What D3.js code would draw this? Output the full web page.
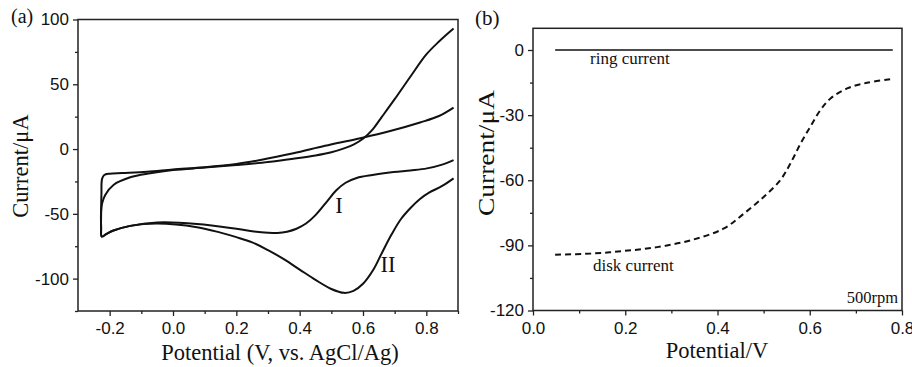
<!DOCTYPE html>
<meta charset="utf-8">
<style>
body { margin: 0; background: #fff; }
svg { font-family: "Liberation Serif", "Times New Roman", serif; }
.axis .domain { display: none; }
.axis .tick line { stroke: #222; stroke-width: 1.3px; }
.axis text { font-size: 17px; fill: #111; }
.frame { fill: none; stroke: #222; stroke-width: 1.5px; }
.cv { fill: none; stroke: #111; stroke-width: 2px; }
.ring { fill: none; stroke: #111; stroke-width: 1.6px; }
.disk { fill: none; stroke: #111; stroke-width: 2px; stroke-dasharray: 6 4; }
.title { font-size: 22.5px; fill: #111; }
.note { font-size: 17px; fill: #111; }
</style>
<body>
<script src="https://cdn.jsdelivr.net/npm/d3@7"></script>
<script>

// (a) cyclic voltammograms, [potential V, current uA]
var cvI = [
  [0.886, 32], [0.84, 25.5], [0.78, 20.5], [0.68, 13.5], [0.58, 7.8], [0.48, 2.5],
  [0.38, -3.3], [0.28, -8.3], [0.2, -11.5], [0.1, -14], [0.0, -15.8], [-0.082, -17.5],
  [-0.16, -18.5], [-0.2, -19], [-0.217, -20], [-0.224, -23], [-0.226, -35],
  [-0.227, -50], [-0.227, -62], [-0.225, -67.5], [-0.21, -65.5], [-0.188, -62.9],
  [-0.135, -59.3], [-0.05, -56.7], [0.076, -57.8], [0.2, -61.5], [0.25, -63.4],
  [0.3, -64.6], [0.33, -64.8], [0.36, -63.8], [0.39, -61.5], [0.42, -57.5], [0.45, -51],
  [0.486, -40.5], [0.515, -32], [0.545, -26], [0.58, -22.3], [0.63, -20], [0.697, -17.8],
  [0.75, -16.5], [0.802, -14.9], [0.85, -12], [0.886, -8.5]
];

var cvII = [
  [0.886, 93], [0.84, 83], [0.8, 73], [0.75, 56], [0.7, 38.5], [0.66, 25], [0.63, 15],
  [0.6, 8], [0.57, 3.5], [0.54, 0.5], [0.5, -2.5], [0.45, -5], [0.38, -7.5], [0.3, -10],
  [0.2, -12.3], [0.1, -14.3], [0.0, -16.2], [-0.072, -18.7], [-0.135, -21.8],
  [-0.188, -27.7], [-0.214, -35.4], [-0.224, -42], [-0.227, -48], [-0.227, -60],
  [-0.225, -67.5], [-0.21, -65.5], [-0.188, -62.9], [-0.135, -59.3], [-0.05, -57.5],
  [0.076, -60.3], [0.15, -64.5], [0.2, -68], [0.25, -72], [0.3, -78], [0.35, -85],
  [0.4, -93], [0.45, -101], [0.5, -108], [0.54, -111], [0.57, -109.5], [0.6, -104],
  [0.633, -93], [0.66, -80], [0.69, -66], [0.72, -54], [0.75, -45.5], [0.78, -38.5],
  [0.81, -33.5], [0.85, -28.5], [0.886, -22.6]
];

// (b) RRDE at 500 rpm
var ringCurrent = [[0.048, 0], [0.78, 0]];
var diskCurrent = [
  [0.048, -94.3], [0.124, -93.8], [0.196, -92.6], [0.269, -90.8], [0.341, -87.7],
  [0.413, -82.3], [0.457, -75.4], [0.5, -67.7], [0.536, -60], [0.558, -52.3],
  [0.58, -43.1], [0.601, -35.4], [0.623, -27.7], [0.645, -22.3], [0.681, -17.7],
  [0.724, -15.1], [0.775, -13.4]
];

var aTicksX = [-0.2, 0.0, 0.2, 0.4, 0.6, 0.8],
    aMinorX = [-0.1, 0.1, 0.3, 0.5, 0.7, 0.9],
    aTicksY = [-100, -50, 0, 50, 100],
    aMinorY = [-125, -75, -25, 25, 75];
var bTicksX = [0.0, 0.2, 0.4, 0.6, 0.8],
    bMinorX = [0.1, 0.3, 0.5, 0.7],
    bTicksY = [-120, -90, -60, -30, 0],
    bMinorY = [-105, -75, -45, -15];

var svg = d3.select("body").append("svg")
    .attr("width", 912)
    .attr("height", 367);

function hyphen(f) {
  return function(d) { return f(d).replace("\u2212", "-"); };
}

function panel(opt) {
  var x = d3.scaleLinear().domain(opt.xd).range(opt.xr),
      y = d3.scaleLinear().domain(opt.yd).range(opt.yr);
  var g = svg.append("g");

  g.append("g")
      .attr("class", "axis")
      .attr("transform", "translate(0," + opt.yr[0] + ")")
      .call(d3.axisBottom(x).tickValues(opt.minorX).tickSize(3).tickFormat(""));
  g.append("g")
      .attr("class", "axis")
      .attr("transform", "translate(0," + opt.yr[0] + ")")
      .call(d3.axisBottom(x).tickValues(opt.ticksX).tickSize(5).tickFormat(hyphen(d3.format(".1f"))))
    .selectAll("text")
      .attr("y", 23)
      .attr("dy", null);

  g.append("g")
      .attr("class", "axis")
      .attr("transform", "translate(" + opt.xr[0] + ",0)")
      .call(d3.axisLeft(y).tickValues(opt.minorY).tickSize(3).tickFormat(""));
  g.append("g")
      .attr("class", "axis")
      .attr("transform", "translate(" + opt.xr[0] + ",0)")
      .call(d3.axisLeft(y).tickValues(opt.ticksY).tickSize(5).tickPadding(4)
          .tickFormat(hyphen(d3.format("d"))));

  g.append("rect")
      .attr("class", "frame")
      .attr("x", opt.xr[0])
      .attr("y", opt.yr[1])
      .attr("width", opt.xr[1] - opt.xr[0])
      .attr("height", opt.yr[0] - opt.yr[1]);

  return {g: g, x: x, y: y};
}

// ---- panel (a)
var a = panel({
  xd: [-0.3, 0.9], xr: [78, 458],
  yd: [-125, 100], yr: [311, 19.5],
  ticksX: aTicksX, minorX: aMinorX, ticksY: aTicksY, minorY: aMinorY
});

var lineA = d3.line()
    .x(function(d) { return a.x(d[0]); })
    .y(function(d) { return a.y(d[1]); })
    .curve(d3.curveCatmullRom.alpha(0.5));

a.g.append("path").datum(cvI).attr("class", "cv").attr("d", lineA);
a.g.append("path").datum(cvII).attr("class", "cv").attr("d", lineA);

a.g.append("text").attr("class", "title").attr("x", 339).attr("y", 213)
    .attr("text-anchor", "middle").text("I");
a.g.append("text").attr("class", "title").attr("x", 388).attr("y", 272)
    .attr("text-anchor", "middle").text("II");

a.g.append("text").attr("class", "title").attr("x", 11).attr("y", 23)
    .style("font-size", "20px").text("(a)");
a.g.append("text").attr("class", "title")
    .attr("transform", "translate(28,166) rotate(-90)")
    .attr("text-anchor", "middle")
    .text("Current/\u03bcA");
a.g.append("text").attr("class", "title")
    .attr("x", 280).attr("y", 360)
    .attr("text-anchor", "middle")
    .text("Potential (V, vs. AgCl/Ag)");

// ---- panel (b)
var b = panel({
  xd: [0, 0.8], xr: [533, 902],
  yd: [-120, 10], yr: [310.5, 28.3],
  ticksX: bTicksX, minorX: bMinorX, ticksY: bTicksY, minorY: bMinorY
});

var lineB = d3.line()
    .x(function(d) { return b.x(d[0]); })
    .y(function(d) { return b.y(d[1]); })
    .curve(d3.curveCatmullRom.alpha(0.5));

b.g.append("path").datum(ringCurrent).attr("class", "ring").attr("d", lineB);
b.g.append("path").datum(diskCurrent).attr("class", "disk").attr("d", lineB);

b.g.append("text").attr("class", "note").attr("x", 590).attr("y", 64).text("ring current");
b.g.append("text").attr("class", "note").attr("x", 593).attr("y", 271).text("disk current");
b.g.append("text").attr("class", "note").attr("x", 898).attr("y", 303)
    .attr("text-anchor", "end").style("font-size", "16.5px").text("500rpm");

b.g.append("text").attr("class", "title").attr("x", 475).attr("y", 25)
    .style("font-size", "21px").text("(b)");
b.g.append("text").attr("class", "title")
    .attr("transform", "translate(494,153) rotate(-90)")
    .attr("text-anchor", "middle")
    .attr("textLength", 126)
    .attr("lengthAdjust", "spacingAndGlyphs")
    .text("Current/\u03bcA");
b.g.append("text").attr("class", "title")
    .attr("x", 717).attr("y", 358)
    .attr("text-anchor", "middle")
    .text("Potential/V");

</script>
